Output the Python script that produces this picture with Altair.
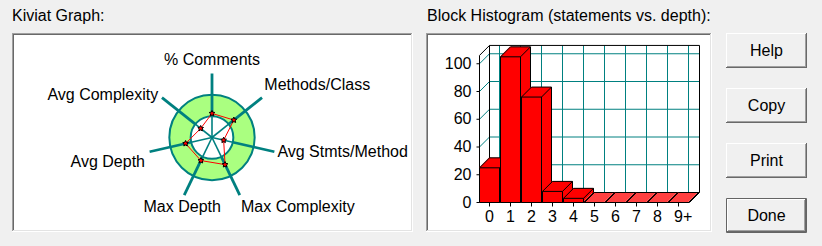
import math
import altair as alt
import pandas as pd

# ---------------- data ----------------
KIVIAT_LABELS = ["% Comments", "Methods/Class", "Avg Stmts/Method", "Max Complexity",
                 "Max Depth", "Avg Depth", "Avg Complexity"]
KIVIAT_VALUES = [1.13, 1.31, 0.56, 1.41, 1.20, 1.27, 0.68]
KIVIAT_RING = [1.0, 2.0]      # inner / outer edge of the normal band
KIVIAT_MAX = 3.0

DEPTH_LABELS = ["0", "1", "2", "3", "4", "5", "6", "7", "8", "9+"]
DEPTH_COUNTS = [25, 105, 76, 8, 3, 0, 0, 0, 0, 0]
Y_TICKS = [0, 20, 40, 60, 80, 100]
Y_MAX = 106

TITLES = ["Kiviat Graph:", "Block Histogram (statements vs. depth):"]
BUTTONS = ["Help", "Copy", "Print", "Done"]

# ---------------- styling ----------------
FONT = "Liberation Sans"
FS = 16
TEAL = "#008080"
GREEN = "#aaff80"
RED = "#ff0000"
BG = "#f0f0f0"
D = 10            # 3-D depth in pixels
BARW = 20 / 21    # bar width in category units

ONE = pd.DataFrame({"_": [0]})


def prect(x1, y1, x2, y2, fill, stroke=None):
    kw = dict(fill=fill, strokeWidth=0)
    if stroke:
        kw = dict(fill=fill, stroke=stroke, strokeWidth=1)
    return alt.Chart(ONE).mark_rect(**kw).encode(
        x=alt.value(x1), x2=alt.value(x2), y=alt.value(y1), y2=alt.value(y2))


def pline(x1, y1, x2, y2, color):
    return alt.Chart(ONE).mark_rule(color=color, strokeWidth=1).encode(
        x=alt.value(x1), x2=alt.value(x2), y=alt.value(y1), y2=alt.value(y2))


def ptext(x, y, text, align="left"):
    return alt.Chart(ONE).mark_text(text=text, align=align, baseline="alphabetic",
                                    font=FONT, fontSize=FS, color="#000000").encode(
        x=alt.value(x), y=alt.value(y))


def panel(x1, y1, x2, y2):
    return [
        prect(x1, y1, x2, y2, "#ffffff"),
        pline(x1, y1 + 0.5, x2, y1 + 0.5, "#a0a0a0"),
        pline(x1 + 0.5, y1, x1 + 0.5, y2, "#a0a0a0"),
        pline(x1 + 1, y1 + 1.5, x2 - 1, y1 + 1.5, "#696969"),
        pline(x1 + 1.5, y1 + 1, x1 + 1.5, y2 - 1, "#696969"),
        pline(x1, y2 - 0.5, x2, y2 - 0.5, "#ffffff"),
        pline(x2 - 0.5, y1, x2 - 0.5, y2, "#ffffff"),
        pline(x1 + 1, y2 - 1.5, x2 - 1, y2 - 1.5, "#e3e3e3"),
        pline(x2 - 1.5, y1 + 1, x2 - 1.5, y2 - 1, "#e3e3e3"),
    ]


def button(x1, y1, x2, y2, label, default=False):
    out = [prect(x1, y1, x2, y2, BG)]
    if default:
        out.append(prect(x1 + 0.5, y1 + 0.5, x2 - 0.5, y2 - 0.5, BG, stroke="#646464"))
        x1, y1, x2, y2 = x1 + 1, y1 + 1, x2 - 1, y2 - 1
    out += [
        pline(x1, y1 + 0.5, x2, y1 + 0.5, "#ffffff"),
        pline(x1 + 0.5, y1, x1 + 0.5, y2, "#ffffff"),
        pline(x1, y2 - 0.5, x2, y2 - 0.5, "#696969"),
        pline(x2 - 0.5, y1, x2 - 0.5, y2, "#696969"),
        pline(x1 + 1, y2 - 1.5, x2 - 1, y2 - 1.5, "#a0a0a0"),
        pline(x2 - 1.5, y1 + 1, x2 - 1.5, y2 - 1, "#a0a0a0"),
        ptext((x1 + x2) / 2, y1 + 22.5 - (1 if default else 0), label, align="center"),
    ]
    return out


decor = []
decor.append(ptext(12, 21, TITLES[0]))
decor.append(ptext(427, 21, TITLES[1]))
decor += panel(12, 33, 413, 232)
decor += panel(426, 33, 712, 232)
for i, b in enumerate(BUTTONS):
    y1 = 33 + 55 * i
    decor += button(726, y1, 807, y1 + 35, b, default=(b == "Done"))

# ---------------- kiviat ----------------
n = len(KIVIAT_LABELS)
kdf = pd.DataFrame({"idx": list(range(n)), "label": KIVIAT_LABELS, "value": KIVIAT_VALUES})
KX = alt.Scale(domain=[-KIVIAT_MAX, KIVIAT_MAX], range=[148, 276], nice=False, zero=False)
KY = alt.Scale(domain=[-KIVIAT_MAX, KIVIAT_MAX], range=[201.5, 73.5], nice=False, zero=False)
KR = alt.Scale(type="linear", domain=[0, KIVIAT_MAX], range=[0, 64], nice=False)

kbase = alt.Chart(kdf).transform_calculate(
    a=f"datum.idx * 2 * PI / {n}",
).transform_calculate(
    px="datum.value * sin(datum.a)",
    py="datum.value * cos(datum.a)",
    ex=f"{KIVIAT_MAX} * sin(datum.a)",
    ey=f"{KIVIAT_MAX} * cos(datum.a)",
    mx=f"{KIVIAT_RING[0]} * sin(datum.a)",
    my=f"{KIVIAT_RING[0]} * cos(datum.a)",
    cx="0", cy="0",
)

ring_df = pd.DataFrame({"ri": [KIVIAT_RING[0]], "ro": [KIVIAT_RING[1]], "cx": [0], "cy": [0]})
ring = alt.Chart(ring_df).mark_arc(fill=GREEN, stroke=TEAL, strokeWidth=2,
                                   theta=0, theta2=6.2832).encode(
    x=alt.X("cx:Q", scale=KX, axis=None),
    y=alt.Y("cy:Q", scale=KY, axis=None),
    radius=alt.Radius("ro:Q", scale=KR),
    radius2=alt.Radius2("ri:Q"),
)

spokes_in = kbase.mark_rule(color=TEAL, strokeWidth=1.6).encode(
    x=alt.X("cx:Q", scale=KX, axis=None), y=alt.Y("cy:Q", scale=KY, axis=None),
    x2="mx:Q", y2="my:Q")
spokes_out = kbase.mark_rule(color=TEAL, strokeWidth=2.8).encode(
    x=alt.X("mx:Q", scale=KX, axis=None), y=alt.Y("my:Q", scale=KY, axis=None),
    x2="ex:Q", y2="ey:Q")

poly = kbase.mark_line(color=RED, strokeWidth=1, interpolate="linear-closed").encode(
    x=alt.X("px:Q", scale=KX, axis=None), y=alt.Y("py:Q", scale=KY, axis=None),
    order="idx:Q")

STAR = ("M0,-1L0.29,-0.4L0.95,-0.31L0.48,0.15L0.59,0.81L0,0.5L-0.59,0.81"
        "L-0.48,0.15L-0.95,-0.31L-0.29,-0.4Z")
pts = kbase.mark_point(shape=STAR, size=36, filled=True, fill=RED, stroke="#000000",
                       strokeWidth=1, opacity=1).encode(
    x=alt.X("px:Q", scale=KX, axis=None), y=alt.Y("py:Q", scale=KY, axis=None))

# label placement (layout only): align, dx, dy relative to the spoke end
LABEL_PLACE = [("center", 0, -8.5), ("left", 2.3, -7.6), ("left", 3, 5),
               ("left", 1.2, 16.5), ("center", -2, 16.5), ("right", -4.6, 15),
               ("right", -3.7, 2.4)]
klabels = []
for i, (al, dx, dy) in enumerate(LABEL_PLACE):
    klabels.append(kbase.transform_filter(f"datum.idx == {i}").mark_text(
        align=al, baseline="alphabetic", dx=dx, dy=dy, font=FONT, fontSize=FS,
        color="#000000").encode(
        x=alt.X("ex:Q", scale=KX, axis=None), y=alt.Y("ey:Q", scale=KY, axis=None),
        text="label:N"))

kiviat = alt.layer(ring, spokes_in, spokes_out, poly, pts, *klabels)

# ---------------- block histogram ----------------
m = len(DEPTH_LABELS)
hdf = pd.DataFrame({"idx": list(range(m)), "label": DEPTH_LABELS, "count": DEPTH_COUNTS})
HX = alt.Scale(domain=[0, m], range=[479.5, 689.5], nice=False, zero=False)
HY = alt.Scale(domain=[0, Y_MAX], range=[202.5, 202.5 - 1.3875 * Y_MAX], nice=False, zero=False)

hbase = alt.Chart(hdf).transform_calculate(
    x0="datum.idx", x1=f"datum.idx + {BARW}", xc=f"datum.idx + {BARW / 2}", z="0")
tdf = pd.DataFrame({"v": Y_TICKS})
tbase = alt.Chart(tdf).transform_calculate(xa="0", xb=str(m))
fdf = pd.DataFrame({"xa": [0], "xb": [m], "ya": [0], "yb": [Y_MAX]})
fbase = alt.Chart(fdf)


def hrule(base, x, y, x2, y2, color, **off):
    return base.mark_rule(color=color, strokeWidth=1, **off).encode(
        x=alt.X(f"{x}:Q", scale=HX, axis=None), y=alt.Y(f"{y}:Q", scale=HY, axis=None),
        x2=alt.X2(x2), y2=alt.Y2(y2))


BACK = dict(xOffset=D, x2Offset=D, yOffset=-D, y2Offset=-D)
DIAG = dict(x2Offset=D, y2Offset=-D)

hist_layers = [
    # back wall grid
    hrule(tbase.transform_filter("datum.v > 0"), "xa", "v", "xb", "v", TEAL, **BACK),
    hrule(tbase.transform_filter("datum.v > 0"), "xa", "v", "xa", "v", TEAL, **DIAG),
    hbase.mark_rule(color=TEAL, strokeWidth=1, xOffset=D, x2Offset=D, yOffset=-D,
                    y2Offset=-D).encode(
        x=alt.X("xc:Q", scale=HX, axis=None), y=alt.Y("z:Q", scale=HY, axis=None),
        y2=alt.datum(Y_MAX)),
    # frame
    hrule(fbase, "xa", "ya", "xa", "yb", "#000000", **BACK),
    hrule(fbase, "xa", "yb", "xb", "yb", "#000000", **BACK),
    hrule(fbase, "xb", "ya", "xb", "yb", "#000000", **BACK),
    hrule(fbase, "xa", "ya", "xb", "ya", "#000000", **BACK),
    hrule(fbase, "xa", "yb", "xa", "yb", "#000000", **DIAG),
    hrule(fbase, "xa", "ya", "xa", "yb", "#000000"),
    hrule(fbase, "xa", "ya", "xb", "ya", "#000000"),
    hrule(fbase, "xb", "ya", "xb", "ya", "#000000", **DIAG),
    # y ticks + labels
    hrule(tbase, "xa", "v", "xa", "v", "#000000", xOffset=-3),
    tbase.mark_text(align="right", baseline="middle", dx=-8, font=FONT, fontSize=FS,
                    color="#000000").encode(
        x=alt.X("xa:Q", scale=HX, axis=None), y=alt.Y("v:Q", scale=HY, axis=None),
        text="v:Q"),
    # x ticks + labels
    hrule(hbase, "xc", "z", "xc", "z", "#000000", y2Offset=4),
    hbase.mark_text(align="left", baseline="alphabetic", dx=-4.45, dy=19, font=FONT,
                    fontSize=FS, color="#000000").encode(
        x=alt.X("xc:Q", scale=HX, axis=None), y=alt.Y("z:Q", scale=HY, axis=None),
        text="label:N"),
]

for j in range(m):
    bb = hbase.transform_filter(f"datum.idx == {j}")
    for k in range(D + 1):
        hist_layers.append(bb.mark_rect(fill=RED, strokeWidth=0, xOffset=k, x2Offset=k,
                                        yOffset=-min(k + 1, D), y2Offset=-k).encode(
            x=alt.X("x0:Q", scale=HX, axis=None), x2="x1:Q",
            y=alt.Y("count:Q", scale=HY, axis=None), y2="z:Q"))
    hist_layers.append(bb.mark_rect(fill=RED, stroke="#000000", strokeWidth=1).encode(
        x=alt.X("x0:Q", scale=HX, axis=None), x2="x1:Q",
        y=alt.Y("count:Q", scale=HY, axis=None), y2="z:Q"))
    hist_layers += [
        hrule(bb, "x0", "count", "x1", "count", "#000000", **BACK),
        hrule(bb, "x0", "count", "x0", "count", "#000000", **DIAG),
        hrule(bb, "x1", "count", "x1", "count", "#000000", **DIAG),
        hrule(bb, "x1", "count", "x1", "z", "#000000", **BACK),
        hrule(bb, "x1", "z", "x1", "z", "#000000", **DIAG),
    ]

hist = alt.layer(*hist_layers)

chart = alt.layer(*decor, kiviat, hist).resolve_scale(
    x="independent", y="independent"
).properties(
    width=822, height=246, padding=0,
    autosize=alt.AutoSizeParams(type="none"),
    background=BG,
).configure_view(stroke=None)

chart.save("out.html", embed_options={"renderer": "svg", "actions": False})
